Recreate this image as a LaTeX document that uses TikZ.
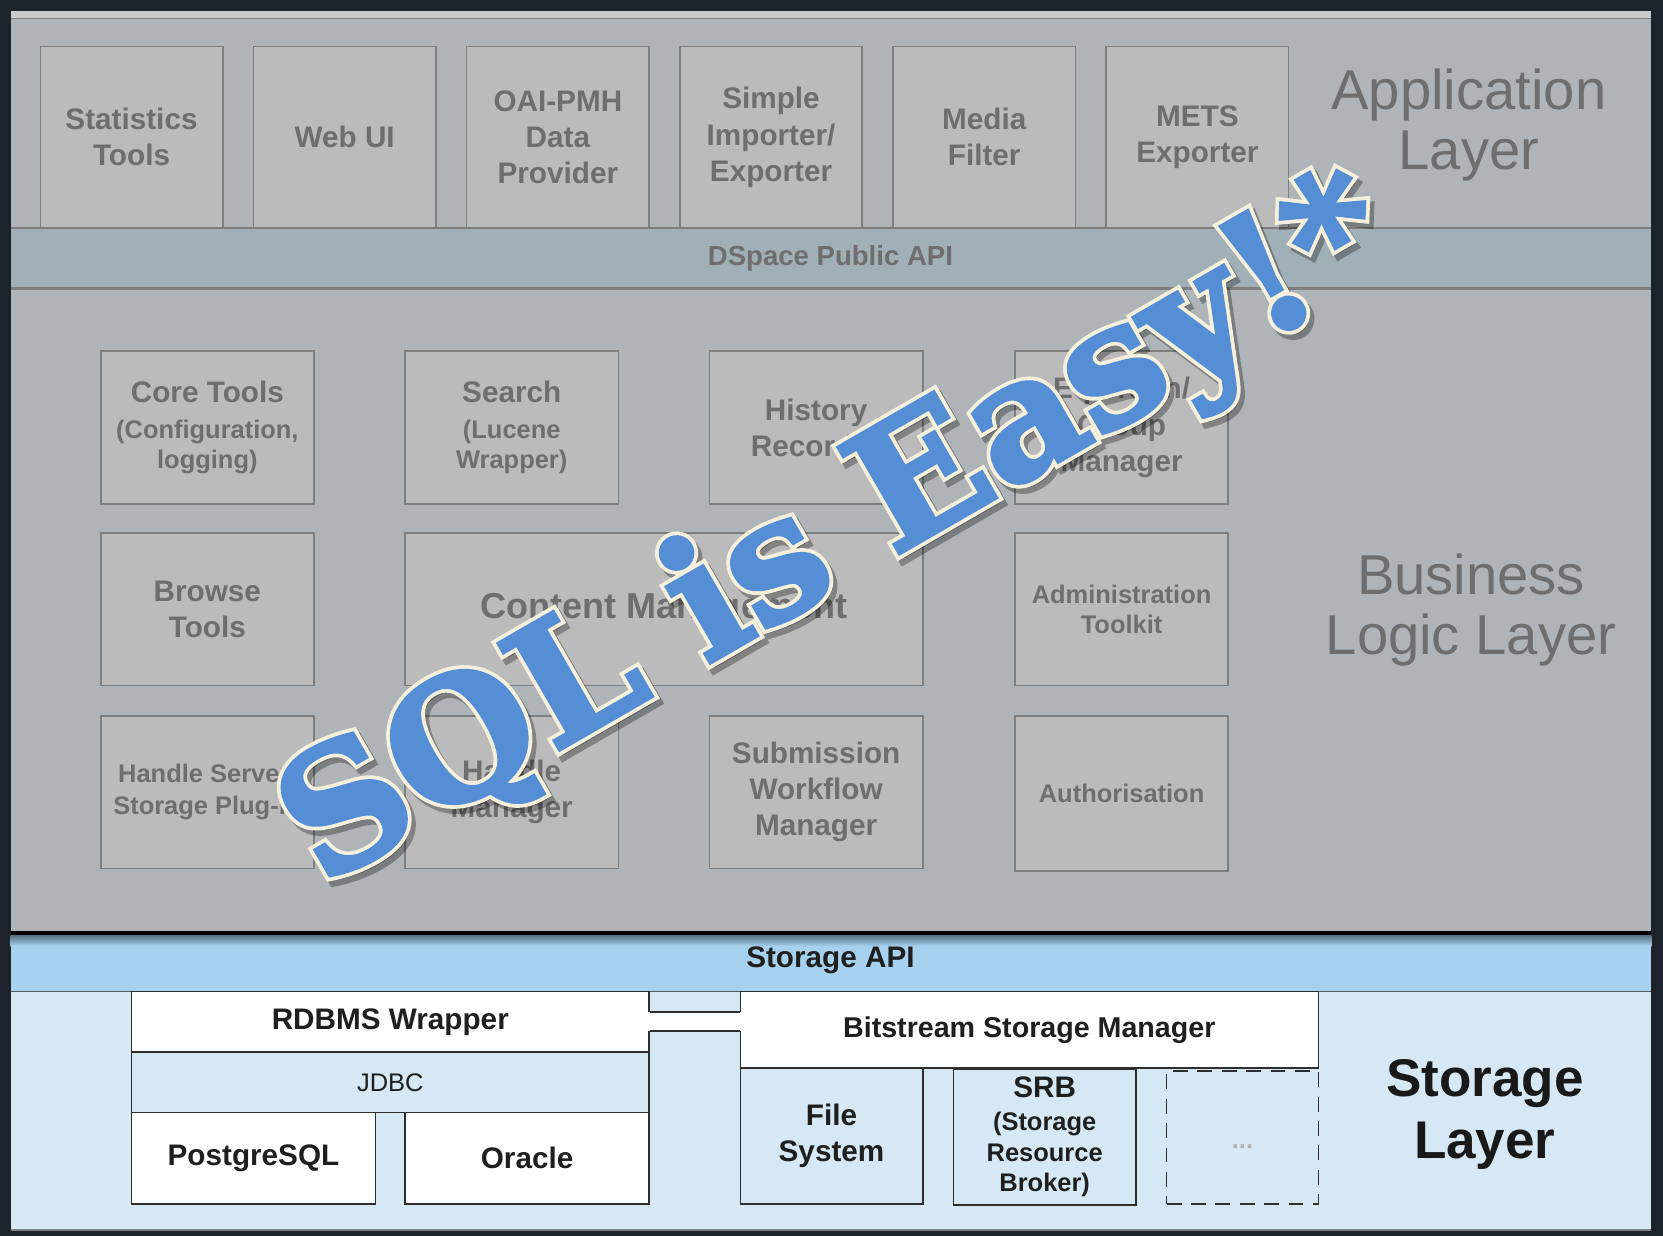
\documentclass[tikz,border=0pt]{standalone}
\usepackage{fontspec}
\setmainfont{Liberation Sans}
\newfontfamily\sqlface{DejaVu Serif Bold}[FakeBold=2.5]
\newfontfamily\sqlrim{DejaVu Serif Bold}[FakeBold=7]
\usepackage{tikz}
\usetikzlibrary{positioning}

\definecolor{darkframe}{HTML}{1D232B}
\definecolor{panel}{HTML}{AFB4B8}
\definecolor{panelrim}{HTML}{C9CACB}
\definecolor{apiband}{HTML}{A1AFB7}
\definecolor{boxfill}{HTML}{BBBBBB}
\definecolor{boxline}{HTML}{7E7E7E}
\definecolor{greytext}{HTML}{6E6E6E}
\definecolor{storeapi}{HTML}{A6D1EF}
\definecolor{storebg}{HTML}{D5E8F4}
\definecolor{storeline}{HTML}{2E2E2E}
\definecolor{sqlblue}{HTML}{558ED5}
\definecolor{sqlcream}{HTML}{F4F0DC}

\newcommand\fsz[2]{\fontsize{#1}{#2}\selectfont}
\newcommand\smallline{\fsz{24}{29}}

\tikzset{
  appbox/.style={draw=boxline, fill=boxfill, line width=1.5pt, text=greytext,
    align=center, inner sep=0pt, font=\bfseries\fsz{28}{34}},
  storebox/.style={draw=storeline, fill=white, line width=1.5pt, text=black!88,
    align=center, inner sep=0pt, font=\bfseries\fsz{28}{34}},
  layertitle/.style={text=greytext, align=center, font=\fsz{53}{57}},
  sqlbanner/.style={rotate=30, inner sep=0pt, font=\fsz{158}{158}},
}

\begin{document}
\begin{tikzpicture}[x=1pt,y=-1pt]
  \useasboundingbox (0,0) rectangle (1568,1165);
  \fill[darkframe] (0,0) rectangle (1568,1165);

  % layers
  \fill[panel] (10,10) rectangle (1557,879);
  \fill[panelrim] (10,10) rectangle (1557,17);
  \draw[boxline, line width=1pt] (10,17) -- (1557,17);
  \fill[apiband] (10,215) rectangle (1557,272);
  \draw[boxline, line width=2pt] (10,215) -- (1557,215) (10,272) -- (1557,272);
  \fill[black] (10,878) rectangle (1557,882);
  \fill[storebg] (10,882) rectangle (1557,1160);
  \fill[storeapi] (10,882) rectangle (1557,935);
  \shade[top color=storeapi!55!black, bottom color=storeapi] (10,882) rectangle (1557,892);
  \draw[storeline!80, line width=1.5pt] (10,935) -- (1557,935);
  \draw[gray, line width=2pt] (10,1160) -- (1557,1160);

  % application layer
  \node[appbox, minimum width=172, minimum height=171] (stats) at (124,129.5) {Statistics\\Tools};
  \node[appbox, minimum width=172, minimum height=171] (webui) at (325,129.5) {Web UI};
  \node[appbox, minimum width=172, minimum height=171] (oai) at (526,129.5) {OAI-PMH\\Data\\Provider};
  \node[appbox, minimum width=172, minimum height=171] (importer) at (727,129.5) {Simple\\Importer/\\Exporter};
  \node[appbox, minimum width=172, minimum height=171] (media) at (928,129.5) {Media\\Filter};
  \node[appbox, minimum width=172, minimum height=171] (mets) at (1129,129.5) {METS\\Exporter};
  \node[layertitle] (applayer) at (1385,118) {Application\\Layer};

  \node[text=greytext, font=\bfseries\fsz{26}{30}] (pubapi) at (783,244) {DSpace Public API};

  % business logic layer
  \node[appbox, minimum width=201, minimum height=144] (core) at (195.5,403)
    {Core Tools\\\smallline(Configuration,\\[-5pt]\smallline logging)};
  \node[appbox, minimum width=201, minimum height=144] (search) at (482.5,403)
    {Search\\\smallline(Lucene\\[-5pt]\smallline Wrapper)};
  \node[appbox, minimum width=201, minimum height=144] (history) at (769.5,403) {History\\Recorder};
  \node[appbox, minimum width=201, minimum height=144] (eperson) at (1057.5,403) {E-person/\\Group\\Manager};

  \node[appbox, minimum width=201, minimum height=144] (browse) at (195.5,574.5) {Browse\\Tools};
  \node[appbox, minimum width=488, minimum height=144, font=\bfseries\fsz{34}{40}] (content) at (626,574.5)
    {Content Management};
  \node[appbox, minimum width=201, minimum height=144, font=\bfseries\smallline] (admin) at (1057.5,574.5)
    {Administration\\Toolkit};

  \node[appbox, minimum width=201, minimum height=144, font=\bfseries\fsz{24}{30}] (handlesrv) at (195.5,747)
    {Handle Server/\\Storage Plug-in};
  \node[appbox, minimum width=201, minimum height=144] (handlemgr) at (482.5,747) {Handle\\Manager};
  \node[appbox, minimum width=201, minimum height=144] (workflow) at (769.5,747) {Submission\\Workflow\\Manager};
  \node[appbox, minimum width=201, minimum height=146, font=\bfseries\smallline] (authz) at (1057.5,748)
    {Authorisation};
  \node[layertitle] (bizlayer) at (1387,575) {Business\\Logic Layer};

  % storage layer
  \node[font=\bfseries\fsz{28}{32}, text=black!88] (storapi) at (783,905) {Storage API};

  \node[storebox, minimum width=488, minimum height=57] (rdbms) at (368,963.5) {RDBMS Wrapper};
  \node[storebox, minimum width=488, minimum height=57, fill=storebg, font=\smallline] (jdbc) at (368,1020.5) {JDBC};
  \node[storebox, minimum width=230, minimum height=86] (postgres) at (239,1092) {PostgreSQL};
  \node[storebox, minimum width=230, minimum height=86] (oracle) at (497,1092) {Oracle};

  \node[storebox, minimum width=545, minimum height=72, font=\bfseries\fsz{27}{32}] (bsm) at (970.5,971)
    {Bitstream Storage Manager};
  \node[storebox, minimum width=172, minimum height=128, fill=storebg] (filesys) at (784,1071) {File\\System};
  \node[storebox, minimum width=172, minimum height=128, fill=storebg] (srb) at (985,1072)
    {SRB\\[-3pt]\smallline(Storage\\[-5pt]\smallline Resource\\[-5pt]\smallline Broker)};
  \node[storebox, minimum width=143, minimum height=125, fill=storebg, dash pattern=on 14pt off 9pt] (more)
    at (1171.5,1072.5) {};
  \node[text=black!30, font=\bfseries\fsz{24}{28}] (moredots) at ([yshift=-9pt]more.center) {...};

  % channel between the wrapper and the bitstream manager
  \coordinate (chtop) at (0,954);
  \coordinate (chbot) at (0,972);
  \fill[white] (610,954) rectangle (700,972);
  \draw[storeline, line width=1.5pt] (rdbms.east |- chtop) -- (bsm.west |- chtop);
  \draw[storeline, line width=1.5pt] (rdbms.east |- chbot) -- (bsm.west |- chbot);

  \node[align=center, font=\bfseries\fsz{50}{59}, text=black!90] (storlayer) at (1400,1051) {Storage\\Layer};

  % banner
  \node[sqlbanner, text=black, opacity=.3] (sqlshade) at (796,510) {\sqlrim SQL is Easy!*};
  \node[sqlbanner, text=sqlcream] (sqledge) at (792,505) {\sqlrim SQL is Easy!*};
  \node[sqlbanner, text=sqlblue] (sqltext) at (792,505) {\sqlface SQL is Easy!*};
\end{tikzpicture}
\end{document}
